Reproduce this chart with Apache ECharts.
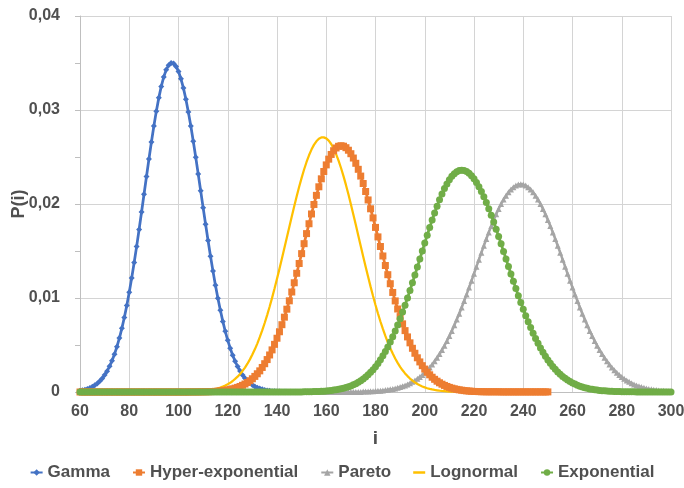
<!DOCTYPE html>
<html>
<head>
<meta charset="utf-8">
<script src="https://cdn.jsdelivr.net/npm/echarts@6/dist/echarts.min.js"></script>
<style>
html,body{margin:0;padding:0;background:#fff;}
#chart{width:684px;height:488px;}
</style>
</head>
<body>
<div id="chart"></div>
<script>
// ---- data (i = start, start+1, ...) ----
const seriesNames = ['Gamma', 'Hyper-exponential', 'Pareto', 'Lognormal', 'Exponential'];
const xTicks = [60, 80, 100, 120, 140, 160, 180, 200, 220, 240, 260, 280, 300];
const yTicks = [0, 0.01, 0.02, 0.03, 0.04];

const gammaStart = 60;
const gammaValues = [
  0.00014,0.00018,0.00024,0.00032,0.00042,0.00055,0.00071,0.00090,0.00114,0.00144,
  0.00180,0.00222,0.00273,0.00333,0.00402,0.00482,0.00574,0.00677,0.00793,0.00921,
  0.01062,0.01214,0.01377,0.01549,0.01729,0.01915,0.02104,0.02293,0.02479,0.02659,
  0.02830,0.02988,0.03129,0.03251,0.03351,0.03427,0.03477,0.03500,0.03494,0.03464,
  0.03410,0.03332,0.03233,0.03115,0.02979,0.02829,0.02667,0.02497,0.02320,0.02141,
  0.01961,0.01784,0.01611,0.01445,0.01286,0.01136,0.00997,0.00869,0.00751,0.00645,
  0.00550,0.00466,0.00391,0.00327,0.00271,0.00223,0.00182,0.00147,0.00119,0.00095,
  0.00075,0.00059,0.00046,0.00036,0.00028,0.00021,0.00016,0.00012,0.00009,0.00007,
  0.00005,0.00004,0.00003,0.00002,0.00002,0.00001
];

const hyperStart = 60;
const hyperValues = [
  0,0,0,0,0,0,0,0,0,0, 0,0,0,0,0,0,0,0,0,0,
  0,0,0,0,0,0,0,0,0,0, 0,0,0,0,0,0,0,0,0,0,
  0,0,0,0,0,
  0.00001,0.00001,0.00001,0.00001,0.00002,0.00002,0.00003,0.00003,0.00004,0.00005,
  0.00007,0.00009,0.00011,0.00015,0.00018,0.00022,0.00027,0.00034,0.00041,0.00049,
  0.00059,0.00071,0.00085,0.00101,0.00120,0.00141,0.00166,0.00194,0.00225,0.00261,
  0.00301,0.00345,0.00394,0.00448,0.00507,0.00572,0.00641,0.00716,0.00796,0.00881,
  0.00970,0.01064,0.01162,0.01263,0.01367,0.01472,0.01578,0.01685,0.01790,0.01894,
  0.01995,0.02092,0.02183,0.02268,0.02346,0.02416,0.02477,0.02527,0.02567,0.02596,
  0.02614,0.02620,0.02615,0.02599,0.02572,0.02535,0.02489,0.02433,0.02369,0.02297,
  0.02218,0.02133,0.02043,0.01949,0.01852,0.01751,0.01650,0.01548,0.01447,0.01346,
  0.01248,0.01152,0.01059,0.00969,0.00883,0.00802,0.00725,0.00653,0.00586,0.00523,
  0.00465,0.00412,0.00364,0.00320,0.00280,0.00244,0.00211,0.00183,0.00157,0.00135,
  0.00115,0.00098,0.00083,0.00070,0.00059,0.00049,0.00041,0.00034,0.00028,0.00023,
  0.00019,0.00015,0.00012,0.00010,0.00008,0.00006,0.00005,0.00004,0.00003,0.00003,
  0.00002,0.00002,0.00002,0.00002,0.00002,0.00002,0.00001,0.00001,0.00001,0.00001,
  0.00001,0.00001,0.00001,0.00001,0.00001,0.00001,0.00001,0.00001,0.00001,0.00001,
  0.00001,0.00001,0.00001,0.00001,0.00001,0.00001
];

const paretoStart = 60;
const paretoValues = [
  0,0,0,0,0,0,0,0,0,0, 0,0,0,0,0,0,0,0,0,0,
  0,0,0,0,0,0,0,0,0,0, 0,0,0,0,0,0,0,0,0,0,
  0,0,0,0,0,0,0,0,0,0, 0,0,0,0,0,0,0,0,0,0,
  0,0,0,0,0,0,0,0,0,0, 0,0,0,0,0,0,0,0,0,0,
  0,0,0,0,0,0,0,0,0,0, 0,0,0,0,0,0,0,0,0,0,
  0,0,0,0,0,0,0,0,0,0, 0,0,0,0,0,
  0.00004,0.00004,0.00005,0.00007,0.00008,0.00010,0.00012,0.00014,0.00017,0.00020,
  0.00023,0.00028,0.00032,0.00038,0.00045,0.00052,0.00061,0.00070,0.00081,0.00094,
  0.00108,0.00123,0.00141,0.00160,0.00182,0.00206,0.00232,0.00261,0.00292,0.00327,
  0.00364,0.00404,0.00447,0.00493,0.00543,0.00595,0.00650,0.00709,0.00770,0.00833,
  0.00899,0.00968,0.01038,0.01111,0.01184,0.01258,0.01333,0.01408,0.01482,0.01556,
  0.01628,0.01698,0.01765,0.01830,0.01891,0.01948,0.02000,0.02047,0.02089,0.02125,
  0.02155,0.02179,0.02196,0.02207,0.02210,0.02207,0.02196,0.02179,0.02155,0.02125,
  0.02089,0.02047,0.02000,0.01948,0.01891,0.01830,0.01765,0.01698,0.01628,0.01556,
  0.01482,0.01408,0.01333,0.01258,0.01184,0.01111,0.01038,0.00968,0.00899,0.00833,
  0.00770,0.00709,0.00650,0.00595,0.00543,0.00493,0.00447,0.00404,0.00364,0.00327,
  0.00292,0.00261,0.00232,0.00206,0.00182,0.00160,0.00141,0.00123,0.00108,0.00094,
  0.00081,0.00070,0.00061,0.00052,0.00045,0.00038,0.00032,0.00028,0.00023,0.00020,
  0.00017,0.00014,0.00012,0.00010,0.00008,0.00007
];

const lognormalStart = 60;
const lognormalValues = [
  0,0,0,0,0,0,0,0,0,0, 0,0,0,0,0,0,0,0,0,0,
  0,0,0,0,0,0,0,0,0,0, 0,0,0,0,0,0,0,0,0,0,
  0.00001,0.00001,0.00001,0.00002,0.00002,0.00003,0.00004,0.00005,0.00007,0.00008,
  0.00011,0.00013,0.00017,0.00021,0.00026,0.00031,0.00038,0.00047,0.00057,0.00068,
  0.00082,0.00098,0.00117,0.00139,0.00163,0.00192,0.00224,0.00260,0.00301,0.00347,
  0.00398,0.00454,0.00515,0.00583,0.00655,0.00734,0.00818,0.00907,0.01001,0.01101,
  0.01204,0.01310,0.01420,0.01531,0.01644,0.01756,0.01867,0.01976,0.02082,0.02183,
  0.02278,0.02367,0.02447,0.02518,0.02579,0.02629,0.02667,0.02694,0.02708,0.02709,
  0.02698,0.02674,0.02638,0.02590,0.02531,0.02462,0.02383,0.02297,0.02203,0.02103,
  0.01998,0.01889,0.01779,0.01666,0.01554,0.01442,0.01332,0.01225,0.01121,0.01021,
  0.00926,0.00835,0.00750,0.00671,0.00597,0.00528,0.00466,0.00409,0.00357,0.00310,
  0.00268,0.00231,0.00198,0.00169,0.00143,0.00121,0.00102,0.00085,0.00071,0.00059,
  0.00049,0.00040,0.00033,0.00027,0.00022,0.00018,0.00014,0.00011,0.00009,0.00007,
  0.00005,0.00004,0.00003,0.00003,0.00002,0.00002,0.00001,0.00001,0.00001,0.00001,
  0.00001
];

const exponentialStart = 60;
const exponentialValues = [
  0,0,0,0,0,0,0,0,0,0, 0,0,0,0,0,0,0,0,0,0,
  0,0,0,0,0,0,0,0,0,0, 0,0,0,0,0,0,0,0,0,0,
  0,0,0,0,0,0,0,0,0,0, 0,0,0,0,0,0,0,0,0,0,
  0,0,0,0,0,0,0,0,0,0, 0,0,0,0,0,0,0,0,0,0,
  0,0,0,0,0,0,0,0,0,0,
  0.00001,0.00002,0.00002,0.00003,0.00003,0.00004,0.00005,0.00006,0.00007,0.00009,
  0.00011,0.00013,0.00016,0.00020,0.00024,0.00028,0.00034,0.00040,0.00047,0.00056,
  0.00065,0.00076,0.00089,0.00104,0.00120,0.00139,0.00160,0.00183,0.00209,0.00238,
  0.00269,0.00304,0.00343,0.00385,0.00430,0.00479,0.00532,0.00589,0.00649,0.00713,
  0.00780,0.00851,0.00924,0.01001,0.01081,0.01162,0.01245,0.01329,0.01414,0.01500,
  0.01584,0.01668,0.01749,0.01829,0.01905,0.01977,0.02044,0.02107,0.02164,0.02214,
  0.02258,0.02294,0.02323,0.02343,0.02356,0.02360,0.02356,0.02345,0.02327,0.02301,
  0.02269,0.02230,0.02184,0.02133,0.02077,0.02015,0.01950,0.01880,0.01808,0.01732,
  0.01655,0.01576,0.01496,0.01415,0.01335,0.01255,0.01177,0.01100,0.01024,0.00951,
  0.00880,0.00812,0.00747,0.00685,0.00626,0.00570,0.00518,0.00469,0.00423,0.00381,
  0.00341,0.00305,0.00272,0.00242,0.00214,0.00189,0.00166,0.00146,0.00128,0.00111,
  0.00097,0.00084,0.00072,0.00062,0.00053,0.00046,0.00039,0.00033,0.00028,0.00024,
  0.00020,0.00017,0.00014,0.00012,0.00010,0.00008,0.00007,0.00006,0.00004,0.00004,
  0.00003,0.00002,0.00002,0.00002,0.00002,0.00002,0.00001,0.00001,0.00001,0.00001,
  0.00001,0.00001,0.00001,0.00001,0.00001,0.00001,0.00001,0.00001,0.00001,0.00001,
  0.00001
];

// ---- build ----
function pairs(start, vals) { return vals.map((v, k) => [start + k, v]); }

const textColor = '#505050';
const font = 'Liberation Sans';

const styles = {
  'Gamma':             { color: '#4472C4', symbol: 'diamond',  size: 6, width: 2.75, z: 2 },
  'Hyper-exponential': { color: '#ED7D31', symbol: 'rect',     size: 7, width: 2.75, z: 4 },
  'Pareto':            { color: '#A5A5A5', symbol: 'triangle', size: 6, width: 2.5,  z: 2 },
  'Lognormal':         { color: '#FFC000', symbol: 'none',     size: 0, width: 2.25, z: 3 },
  'Exponential':       { color: '#70AD47', symbol: 'circle',   size: 7, width: 2.75, z: 5 }
};
const dataMap = {
  'Gamma': pairs(gammaStart, gammaValues),
  'Hyper-exponential': pairs(hyperStart, hyperValues),
  'Pareto': pairs(paretoStart, paretoValues),
  'Lognormal': pairs(lognormalStart, lognormalValues),
  'Exponential': pairs(exponentialStart, exponentialValues)
};

const series = seriesNames.map(n => ({
  name: n,
  type: 'line',
  data: dataMap[n],
  z: styles[n].z,
  symbol: styles[n].symbol,
  symbolSize: styles[n].size,
  showSymbol: styles[n].symbol !== 'none',
  showAllSymbol: true,
  smooth: false,
  lineStyle: { color: styles[n].color, width: styles[n].width },
  itemStyle: { color: styles[n].color, borderWidth: 0 },
  emphasis: { disabled: true },
  animation: false
}));

const legendData = seriesNames.map(n => n === 'Lognormal'
  ? { name: n, icon: 'path://M0,0 L12,0 L12,2.5 L0,2.5 Z', itemStyle: { color: styles[n].color } }
  : { name: n });

const chart = echarts.init(document.getElementById('chart'), null, { renderer: 'canvas' });
chart.setOption({
  animation: false,
  backgroundColor: '#ffffff',
  grid: { left: 80, right: 13, top: 16, bottom: 96, containLabel: false, outerBoundsMode: 'none' },
  xAxis: {
    type: 'value',
    min: xTicks[0], max: xTicks[xTicks.length - 1], interval: 20,
    name: 'i', nameLocation: 'middle', nameGap: 37, nameMoveOverlap: false,
    nameTextStyle: { fontFamily: font, fontWeight: 'bold', fontSize: 19, color: textColor },
    axisLine: { show: true, onZero: false, lineStyle: { color: '#bfbfbf' } },
    axisTick: { show: false },
    axisLabel: { fontFamily: font, fontWeight: 'bold', fontSize: 16, color: textColor, margin: 12 },
    splitLine: { show: true, lineStyle: { color: '#d4d4d4', width: 1 } }
  },
  yAxis: {
    type: 'value',
    min: yTicks[0], max: yTicks[yTicks.length - 1], interval: 0.01,
    name: 'P(i)', nameLocation: 'middle', nameGap: 52, nameRotate: 90, nameMoveOverlap: false,
    nameTextStyle: { fontFamily: font, fontWeight: 'bold', fontSize: 18, color: textColor },
    axisLine: { show: true, lineStyle: { color: '#bfbfbf' } },
    axisTick: { show: true, length: 5, lineStyle: { color: '#bfbfbf' } },
    minorTick: { show: true, splitNumber: 2, length: 5, lineStyle: { color: '#bfbfbf' } },
    axisLabel: {
      fontFamily: font, fontWeight: 'bold', fontSize: 16, color: textColor, margin: 20,
      formatter: v => v === 0 ? '0' : v.toFixed(2).replace('.', ',')
    },
    splitLine: { show: true, lineStyle: { color: '#d4d4d4', width: 1 } }
  },
  legend: {
    data: legendData,
    bottom: 2,
    left: 'center',
    itemWidth: 12,
    itemHeight: 8,
    itemGap: 22,
    textStyle: { fontFamily: font, fontWeight: 'bold', fontSize: 17, color: textColor }
  },
  series: series
});
</script>
</body>
</html>
